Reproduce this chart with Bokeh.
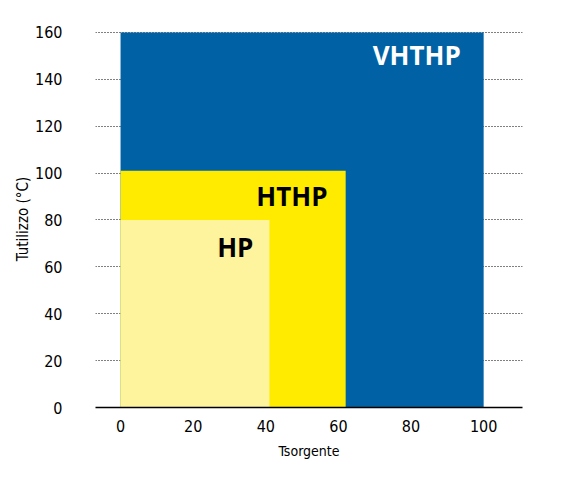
from bokeh.plotting import figure
from bokeh.models import Range1d, FixedTicker
from bokeh.core.properties import value
from bokeh.embed import file_html
from bokeh.resources import INLINE

# Data
names = ["VHTHP", "HTHP", "HP"]
x_max = [100, 62, 41]
y_max = [160, 101, 80]
colors = ["#0062A4", "#FFEB00", "#FFF49E"]
label_colors = ["white", "black", "black"]
label_x = [93.7, 57.0, 36.6]
label_y = [150.5, 90, 68.5]
x_ticks = [0, 20, 40, 60, 80, 100]
y_ticks = [0, 20, 40, 60, 80, 100, 120, 140, 160]

FONT = "DejaVu Sans Condensed"

p = figure(width=553, height=479, frame_width=427, frame_height=377,
           output_backend="svg", toolbar_location=None,
           x_range=Range1d(-6.9, 110.7), y_range=Range1d(0, 160.8),
           min_border_left=95, min_border_right=31, min_border_top=30, min_border_bottom=72)
p.outline_line_color = None
p.background_fill_color = "white"

for i in range(len(names)):
    p.quad(left=0, right=x_max[i], bottom=0, top=y_max[i], fill_color=colors[i], line_color=None)

p.text(x=label_x, y=label_y, text=names, text_align="right", text_baseline="alphabetic",
       text_color=label_colors, text_font=value("Open Sans"), text_font_style="bold",
       text_font_size="26px")

p.xaxis.ticker = FixedTicker(ticks=x_ticks)
p.yaxis.ticker = FixedTicker(ticks=y_ticks)
p.xaxis.axis_label = "Tsorgente"
p.yaxis.axis_label = "Tutilizzo (°C)"
for ax in (p.xaxis, p.yaxis):
    ax.major_tick_line_color = None
    ax.minor_tick_line_color = None
    ax.major_label_text_font = FONT
    ax.major_label_text_font_size = "16px"
    ax.major_label_text_color = "black"
    ax.axis_label_text_font = FONT
    ax.axis_label_text_font_style = "normal"
    ax.axis_label_text_font_size = "15px"
    ax.axis_label_text_color = "black"
p.xaxis.axis_label_text_font_size = "14px"
p.xaxis.axis_line_color = "black"
p.xaxis.axis_line_width = 1.5
p.yaxis.axis_line_color = None
p.xaxis.major_label_standoff = 6
p.xaxis.axis_label_standoff = 8
p.yaxis.major_label_standoff = 27
p.yaxis.axis_label_standoff = 0

p.xgrid.grid_line_color = None
p.ygrid.grid_line_color = "black"
p.ygrid.grid_line_dash = "1 2"
p.ygrid.grid_line_width = 1
p.ygrid.ticker = FixedTicker(ticks=y_ticks[1:])

open("out.html", "w").write(file_html(p, INLINE))
